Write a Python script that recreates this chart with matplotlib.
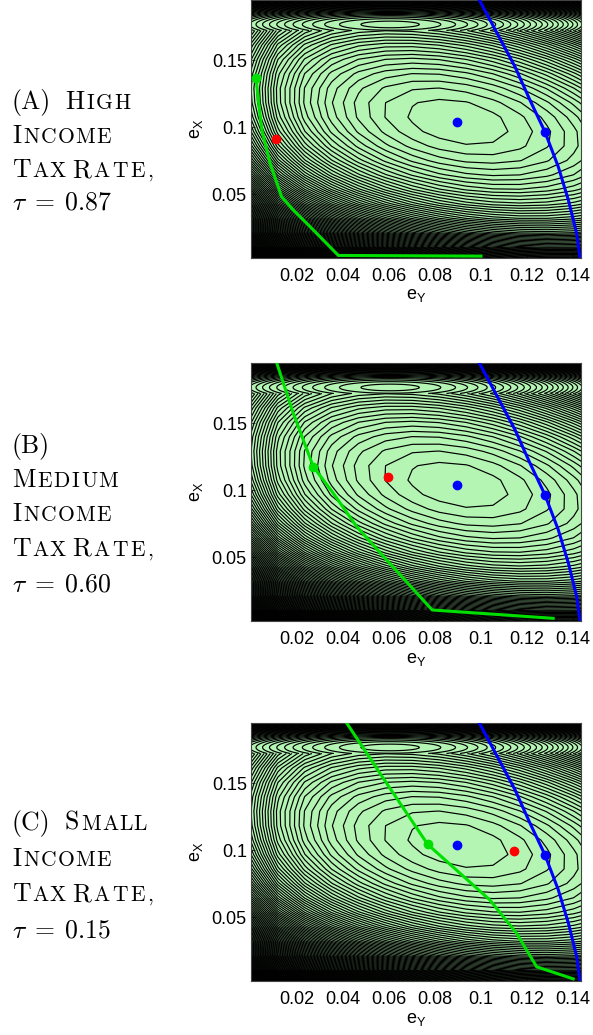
import numpy as np
import matplotlib
matplotlib.use('Agg')
import matplotlib.pyplot as plt

plt.rcParams['font.family'] = 'Liberation Sans'
plt.rcParams['mathtext.fontset'] = 'custom'
plt.rcParams['mathtext.rm'] = 'Liberation Sans'
plt.rcParams['mathtext.it'] = 'Liberation Sans'

W, H = 593, 1035

# blue curve and dots, same in all three panels (x = e_Y, y = e_X)
blue_x = [0.0993, 0.1148, 0.1213, 0.1278, 0.1336, 0.1380, 0.1416, 0.1430]
blue_y = [0.1947, 0.1450, 0.1202, 0.0966, 0.0706, 0.0458, 0.0210, 0.0036]
blue_dot_x = [0.0896, 0.1278]
blue_dot_y = [0.1040, 0.0966]

# green curves, one per panel
green_x_a = [0.0022, 0.0032, 0.0047, 0.0083, 0.0133, 0.0184, 0.0257, 0.0380, 0.1000]
green_y_a = [0.1368, 0.1200, 0.0980, 0.0731, 0.0482, 0.0383, 0.0259, 0.0045, 0.0040]
green_x_b = [0.0112, 0.0184, 0.0271, 0.0358, 0.0460, 0.0590, 0.0788, 0.1314]
green_y_b = [0.1947, 0.1572, 0.1175, 0.0977, 0.0728, 0.0480, 0.0108, 0.0046]
green_x_c = [0.0416, 0.0590, 0.0768, 0.1039, 0.1155, 0.1242, 0.1401]
green_y_c = [0.1947, 0.1498, 0.1044, 0.0629, 0.0381, 0.0132, 0.0042]

green_dot_x = [0.0022, 0.0271, 0.0768]
green_dot_y = [0.1368, 0.1175, 0.1044]
red_dot_x = [0.0109, 0.0597, 0.1143]
red_dot_y = [0.0910, 0.1100, 0.0994]

taus = ['0.87', '0.60', '0.15']
# label lines: words as (capital, small caps rest, x start, x end of the small caps)
labels = [
    [[('(A)', '', 12, 0), ('H', 'IGH', 65, 132)],
     [('I', 'NCOME', 12, 112)],
     [('T', 'AX', 12, 63), ('R', 'ATE,', 72, 156)]],
    [[('(B)', '', 12, 0)],
     [('M', 'EDIUM', 12, 120)],
     [('I', 'NCOME', 12, 112)],
     [('T', 'AX', 12, 63), ('R', 'ATE,', 72, 156)]],
    [[('(C)', '', 12, 0), ('S', 'MALL', 65, 148)],
     [('I', 'NCOME', 12, 112)],
     [('T', 'AX', 12, 63), ('R', 'ATE,', 72, 156)]],
]
baselines = [[109, 143, 177, 210], [453, 487, 521, 556, 591], [830, 866, 901, 937]]

xticks = [0.02, 0.04, 0.06, 0.08, 0.1, 0.12, 0.14]
xtick_labels = ['0.02', '0.04', '0.06', '0.08', '0.1', '0.12', '0.14']
yticks = [0.05, 0.1, 0.15]
ytick_labels = ['0.05', '0.1', '0.15']

# welfare surface: tilted bowl around the optimum, steep near the axes,
# separate strip on top
center = (0.0896, 0.104)
scale = (0.023, 0.0175)
tilt = 0.35
grow = 0.009
wall_y, wall_ly = 15.0, 0.012
wall_x, wall_lx = 10.0, 0.014
top_center = (0.0605, 0.1765)
top_scale = (0.018, 0.0035)
cut = 0.172

gx = np.linspace(0, 0.152, 14)
gy = np.linspace(0, cut, 17)
X, Y = np.meshgrid(gx, gy)
U = (X - center[0]) / scale[0]
V = (Y - center[1]) / scale[1]
Q = U**2 + 2 * tilt * U * V + V**2
Z = Q + grow * Q**2 + wall_y * np.exp(-Y / wall_ly) + wall_x * np.exp(-X / wall_lx)

tx = np.linspace(0, 0.152, 300)
ty = np.linspace(cut, 0.2, 60)
TX, TY = np.meshgrid(tx, ty)
ZT = ((TX - top_center[0]) / top_scale[0])**2 + ((TY - top_center[1]) / top_scale[1])**2

fig = plt.figure(figsize=(W / 100, H / 100), dpi=100)
renderer = fig.canvas.get_renderer()

ax_tops = [0, 363, 723]
ax_h = 258
big, small = 18.5, 15.5

greens = [(green_x_a, green_y_a), (green_x_b, green_y_b), (green_x_c, green_y_c)]


def put(x, y, s, size):
    t = fig.text(x / W, 1 - y / H, s, family='cmr10', fontsize=size, va='baseline')
    return t.get_window_extent(renderer).width


for i in range(3):
    ax = fig.add_axes([251 / W, 1 - (ax_tops[i] + ax_h) / H, 330 / W, ax_h / H])
    ax.set_facecolor('#b4f5b4')
    ax.contour(X, Y, Z, levels=np.arange(0.9, 900, 1.0), colors='black', linewidths=0.85)
    ax.contour(TX, TY, ZT, levels=np.arange(0.5, 400, 1.0), colors='black', linewidths=0.85)
    gxs, gys = greens[i]
    ax.plot(gxs, gys, color='#00e000', lw=2.2, zorder=3)
    ax.plot(blue_x, blue_y, color='#0000ff', lw=2.2, zorder=3)
    ax.plot(blue_dot_x, blue_dot_y, 'o', color='#0000ff', ms=6, zorder=4)
    ax.plot(green_dot_x[i], green_dot_y[i], 'o', color='#00e000', ms=6, zorder=4)
    ax.plot(red_dot_x[i], red_dot_y[i], 'o', color='#ff0000', ms=6, zorder=4)
    ax.set_xlim(0, 0.1435)
    ax.set_ylim(0.0026, 0.1947)
    ax.set_xticks(xticks)
    ax.set_xticklabels(xtick_labels)
    ax.set_yticks(yticks)
    ax.set_yticklabels(ytick_labels)
    ax.tick_params(direction='in', length=3, color='#444444', labelsize=13)
    ax.tick_params(axis='x', pad=7)
    ax.tick_params(axis='y', pad=3)
    for s in ax.spines.values():
        s.set_color('#444444')
        s.set_linewidth(0.8)
    ax.set_xlabel('e$_\\mathrm{Y}$', fontsize=13, labelpad=2)
    ax.set_ylabel('e$_\\mathrm{X}$', fontsize=13, labelpad=5)

    # left hand label, small caps letters spread over the word width
    for j, words in enumerate(labels[i]):
        yb = baselines[i][j]
        for cap, rest, x0, x1 in words:
            x = x0 + put(x0, yb, cap, big) + 2
            if rest:
                widths = []
                for ch in rest:
                    t = fig.text(0, 0, ch, family='cmr10', fontsize=small)
                    widths.append(t.get_window_extent(renderer).width)
                    t.remove()
                gap = max(1.0, (x1 - x - sum(widths)) / len(rest))
                for ch, w in zip(rest, widths):
                    put(x, yb, ch, small)
                    x += w + gap
    fig.text(12 / W, 1 - baselines[i][-1] / H, '$\\tau\\;=\\;%s$' % taus[i],
             fontsize=big, math_fontfamily='cm', va='baseline')

fig.savefig('out.png', dpi=100)
